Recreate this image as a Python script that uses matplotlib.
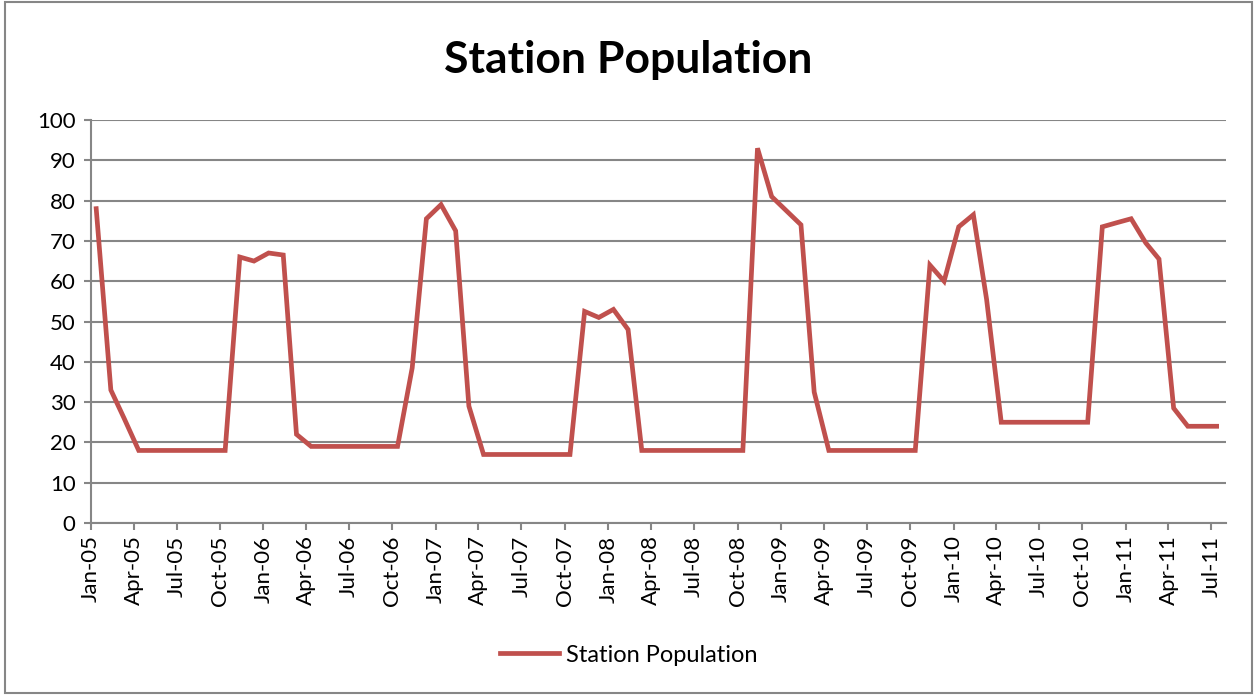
import numpy as np
import pandas as pd
import matplotlib
matplotlib.use("Agg")
import matplotlib.pyplot as plt
import matplotlib.dates as mdates
from matplotlib.patches import Rectangle

plt.rcParams['font.family'] = ['Lato', 'DejaVu Sans']

# monthly readings, Jan-05 .. Jul-11
population = [78, 33, 26, 18, 18, 18, 18, 18, 18, 18,
              66, 65, 67, 66.5, 22, 19, 19, 19, 19, 19, 19, 19,
              38.5, 75.5, 79, 72.5, 29, 17, 17, 17, 17, 17, 17, 17,
              52.5, 51, 53, 48, 18, 18, 18, 18, 18, 18, 18, 18,
              93, 81, 77.5, 74, 32.5, 18, 18, 18, 18, 18, 18, 18,
              64, 60, 73.5, 76.5, 55.5, 25, 25, 25, 25, 25, 25, 25,
              73.5, 74.5, 75.5, 69.5, 65.5, 28.5, 24, 24, 24]
dates = pd.date_range('2005-01-01', periods=len(population), freq='MS') + pd.Timedelta(days=11)
tick_dates = pd.date_range('2005-01-01', '2011-07-01', freq='3MS')

grid_col = '#868686'
line_col = '#C0504D'

fig = plt.figure(figsize=(12.57, 6.95), dpi=100)
ax = fig.add_axes([0.0724, 0.2475, 0.9030, 0.5798])

ax.plot(dates, population, color=line_col, lw=3.4, solid_joinstyle='miter', clip_on=False)

ax.set_ylim(0, 100)
ax.set_yticks(np.arange(0, 101, 10))
ax.set_xlim(pd.Timestamp('2005-01-01'), pd.Timestamp('2011-08-01'))
ax.set_xticks(tick_dates)
ax.xaxis.set_major_formatter(mdates.DateFormatter('%b-%y'))
ax.grid(axis='y', color=grid_col, lw=1.5)
ax.set_axisbelow(True)

for s in ['top', 'right']:
    ax.spines[s].set_visible(False)
for s in ['left', 'bottom']:
    ax.spines[s].set_color(grid_col)
    ax.spines[s].set_linewidth(1.5)

ax.tick_params(axis='y', colors=grid_col, labelcolor='black', labelsize=16, length=5, width=1.5, pad=6)
ax.tick_params(axis='x', colors=grid_col, labelcolor='black', labelsize=16, length=5, width=1.5,
               labelrotation=90, pad=4)

fig.text(0.5, 0.913, 'Station Population', ha='center', va='center', fontsize=32, fontweight='bold')

leg = ax.legend(['Station Population'], loc='center', bbox_to_anchor=(0.5, 0.0575),
                bbox_transform=fig.transFigure, frameon=False, fontsize=17,
                handlelength=2.5, handletextpad=0.3)

fig.patches.append(Rectangle((0.004, 0.003), 0.992, 0.994, transform=fig.transFigure,
                             fill=False, edgecolor=grid_col, lw=1.5))

fig.savefig('out.png', dpi=100, facecolor='white')
